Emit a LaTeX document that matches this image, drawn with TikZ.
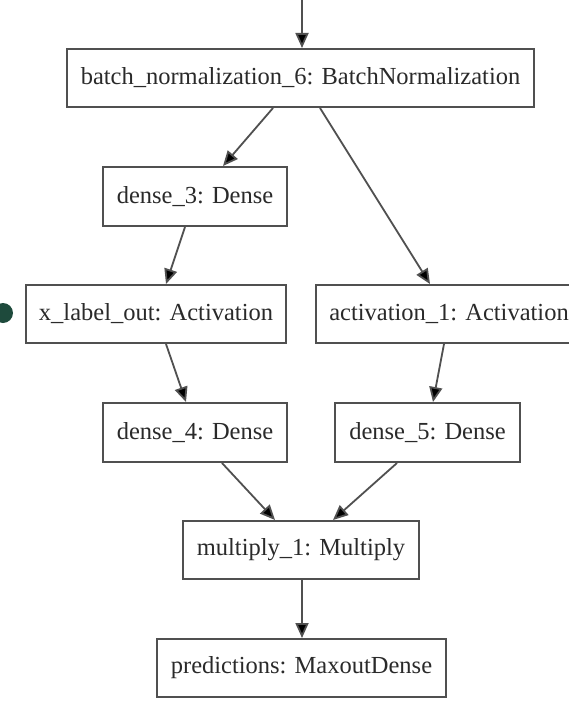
\documentclass[tikz,border=0pt]{standalone}
\usepackage{fontspec}
\setmainfont{Liberation Serif}
\usetikzlibrary{arrows.meta}
\definecolor{edgec}{HTML}{505050}
\definecolor{textc}{HTML}{2A2A2A}
\definecolor{dotc}{HTML}{1E4A3C}
\tikzset{
  layer/.style={draw=edgec, line width=2pt, rectangle, inner sep=0pt,
    minimum height=58pt, text=textc,
    font=\fontsize{24.5}{28}\selectfont},
  flow/.style={draw=edgec, line width=1.8pt,
    -{Triangle[length=15pt,width=13pt,fill=black]}}
}
\begin{document}
\begin{tikzpicture}[x=1pt,y=-1pt]
\useasboundingbox (0,0) rectangle (568,701);
\fill[white] (0,0) rectangle (568,701);

\node[layer, minimum width=467pt] (bn) at (300.5,78) {batch\_normalization\_6: BatchNormalization};
\node[layer, minimum width=184pt, minimum height=59pt] (d3) at (195,196.5) {dense\_3: Dense};
\node[layer, minimum width=260pt] (xl) at (156,314) {x\_label\_out: Activation};
\node[layer, minimum width=266pt] (a1) at (449,314) {activation\_1: Activation};
\node[layer, minimum width=184pt, minimum height=59pt] (d4) at (195,432.5) {dense\_4: Dense};
\node[layer, minimum width=185pt, minimum height=59pt] (d5) at (427.5,432.5) {dense\_5: Dense};
\node[layer, minimum width=236pt] (m) at (301,550) {multiply\_1: Multiply};
\node[layer, minimum width=289pt] (p) at (301.5,668) {predictions: MaxoutDense};

\coordinate (in) at (302,-2);
\fill[dotc] (3,313) circle (10pt);

\draw[flow] (in) -- ([xshift=1.5pt]bn.north);
\draw[flow] ([xshift=-27.5pt]bn.south) -- ([xshift=28pt]d3.north);
\draw[flow] ([xshift=19.5pt]bn.south) -- ([xshift=-19pt]a1.north);
\draw[flow] ([xshift=-10pt]d3.south) -- ([xshift=10pt]xl.north);
\draw[flow] ([xshift=10pt]xl.south) -- ([xshift=-9pt]d4.north);
\draw[flow] ([xshift=-5pt]a1.south) -- ([xshift=5.5pt]d5.north);
\draw[flow] ([xshift=27pt]d4.south) -- ([xshift=-26pt]m.north);
\draw[flow] ([xshift=-30.5pt]d5.south) -- ([xshift=32pt]m.north);
\draw[flow] ([xshift=1pt]m.south) -- ([xshift=0.5pt]p.north);
\end{tikzpicture}
\end{document}
